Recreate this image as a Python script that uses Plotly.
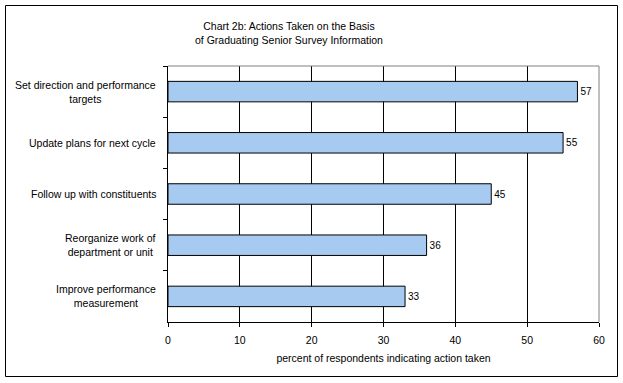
import plotly.graph_objects as go

categories = [
    "Set direction and performance<br>targets",
    "Update plans for next cycle",
    "Follow up with constituents",
    "Reorganize work of<br>department or unit",
    "Improve performance<br>measurement",
]
values = [57, 55, 45, 36, 33]
x_ticks = [0, 10, 20, 30, 40, 50, 60]

FONT = "Liberation Sans, Arial, sans-serif"
W, H = 623, 383
L, R, T, B = 168, 24, 66, 61
pw, ph = W - L - R, H - T - B

def px(x):
    return (x - L) / pw

def py(y):
    return (H - B - y) / ph

fig = go.Figure(go.Bar(
    y=categories, x=values, orientation="h",
    marker=dict(color="#A6CAF0", line=dict(color="black", width=1)),
    width=0.4,
    text=[str(v) for v in values], textposition="outside",
    textfont=dict(family=FONT, size=10, color="black"),
    cliponaxis=False,
    hoverinfo="skip",
))

annotations = [
    dict(text="Chart 2b: Actions Taken on the Basis<br>of Graduating Senior Survey Information",
         xref="paper", yref="paper", x=px(289), y=py(33),
         xanchor="center", yanchor="middle", showarrow=False,
         font=dict(family=FONT, size=10.5), align="center"),
]
for c in categories:
    annotations.append(dict(
        text=c, xref="paper", yref="y", x=px(158), y=c,
        xanchor="right", yanchor="middle", align="center", showarrow=False,
        font=dict(family=FONT, size=10.5, color="black"),
    ))

fig.update_layout(
    width=W, height=H,
    margin=dict(l=L, r=R, t=T, b=B, autoexpand=False),
    paper_bgcolor="white", plot_bgcolor="white",
    font=dict(family=FONT, size=10, color="black"),
    showlegend=False,
    xaxis=dict(
        range=[0, 60], tickvals=x_ticks, ticktext=[str(v) for v in x_ticks],
        showgrid=True, gridcolor="black", gridwidth=1,
        showline=True, linecolor="black", linewidth=1,
        ticks="outside", ticklen=4, tickcolor="black",
        zeroline=False, automargin=False,
        title=dict(text="percent of respondents indicating action taken",
                   font=dict(family=FONT, size=10.5), standoff=10),
        tickfont=dict(family=FONT, size=10.5),
        ticklabelstandoff=4,
    ),
    yaxis=dict(
        autorange="reversed",
        type="category",
        tickson="boundaries",
        showline=True, linecolor="black", linewidth=1,
        ticks="outside", ticklen=4, tickcolor="black",
        showgrid=False, showticklabels=False, automargin=False,
    ),
    shapes=[
        dict(type="rect", xref="paper", yref="paper",
             x0=px(5.5), x1=px(617.5), y0=py(376.5), y1=py(5.5),
             line=dict(color="black", width=1), layer="below"),
        dict(type="line", xref="paper", yref="paper",
             x0=0, x1=1, y0=1, y1=1, line=dict(color="#808080", width=1)),
        dict(type="line", xref="paper", yref="paper",
             x0=1, x1=1, y0=0, y1=1, line=dict(color="#808080", width=1)),
    ],
    annotations=annotations,
)

fig.write_html("out.html", config={"displayModeBar": False, "staticPlot": True})
with open("out.html", "r", encoding="utf-8") as f:
    html = f.read()
html = html.replace("<body>", '<body style="margin:0;padding:0;">', 1)
with open("out.html", "w", encoding="utf-8") as f:
    f.write(html)
